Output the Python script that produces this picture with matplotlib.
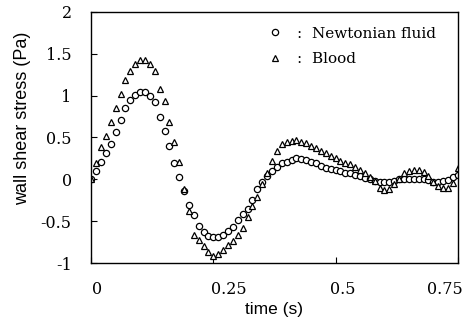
import numpy as np
import matplotlib
matplotlib.use('Agg')
import matplotlib.pyplot as plt
from matplotlib.ticker import FormatStrFormatter
from matplotlib.transforms import ScaledTranslation

# time (s), sampled every 0.01 s over one cycle
t = [0.00, 0.01, 0.02, 0.03, 0.04, 0.05, 0.06, 0.07, 0.08, 0.09,
     0.10, 0.11, 0.12, 0.13, 0.14, 0.15, 0.16, 0.17, 0.18, 0.19,
     0.20, 0.21, 0.22, 0.23, 0.24, 0.25, 0.26, 0.27, 0.28, 0.29,
     0.30, 0.31, 0.32, 0.33, 0.34, 0.35, 0.36, 0.37, 0.38, 0.39,
     0.40, 0.41, 0.42, 0.43, 0.44, 0.45, 0.46, 0.47, 0.48, 0.49,
     0.50, 0.51, 0.52, 0.53, 0.54, 0.55, 0.56, 0.57, 0.58, 0.59,
     0.60, 0.61, 0.62, 0.63, 0.64, 0.65, 0.66, 0.67, 0.68, 0.69,
     0.70, 0.71, 0.72, 0.73, 0.74, 0.75]

# wall shear stress (Pa)
newtonian = [0.00, 0.10, 0.21, 0.32, 0.42, 0.56, 0.71, 0.85, 0.95, 1.01,
             1.04, 1.04, 1.00, 0.92, 0.75, 0.58, 0.40, 0.20, 0.03, -0.14,
             -0.31, -0.43, -0.56, -0.63, -0.68, -0.69, -0.69, -0.67, -0.62, -0.57,
             -0.48, -0.41, -0.35, -0.25, -0.12, -0.03, 0.04, 0.10, 0.15, 0.19,
             0.21, 0.23, 0.25, 0.24, 0.23, 0.21, 0.19, 0.16, 0.14, 0.12,
             0.11, 0.10, 0.08, 0.07, 0.05, 0.04, 0.02, 0.00, -0.02, -0.03,
             -0.03, -0.03, -0.02, 0.00, 0.01, 0.01, 0.01, 0.01, 0.00, -0.01,
             -0.03, -0.03, -0.02, -0.01, 0.03, 0.05]

blood = [0.00, 0.20, 0.39, 0.52, 0.69, 0.85, 1.02, 1.19, 1.30, 1.38,
         1.43, 1.43, 1.38, 1.30, 1.08, 0.94, 0.68, 0.45, 0.21, -0.12,
         -0.38, -0.66, -0.73, -0.80, -0.87, -0.92, -0.89, -0.84, -0.79, -0.74,
         -0.67, -0.58, -0.45, -0.32, -0.21, -0.05, 0.08, 0.22, 0.34, 0.42,
         0.45, 0.46, 0.47, 0.45, 0.43, 0.40, 0.37, 0.34, 0.31, 0.28,
         0.25, 0.22, 0.20, 0.18, 0.15, 0.11, 0.07, 0.03, -0.02, -0.10,
         -0.13, -0.12, -0.06, 0.01, 0.07, 0.10, 0.11, 0.11, 0.09, 0.04,
         -0.03, -0.08, -0.10, -0.10, -0.04, 0.13]

xticks = [0, 0.25, 0.5, 0.75]
yticks = [-1, -0.5, 0, 0.5, 1, 1.5, 2]

serif = 'DejaVu Serif'
sans = 'Liberation Sans'

fig = plt.figure(figsize=(4.7, 3.22), dpi=100)
ax = fig.add_axes([0.194, 0.183, 0.780, 0.780])

ax.plot(t, newtonian, 'o', ms=4.5, mfc='white', mec='black', mew=0.9,
        label=':  Newtonian fluid')
ax.plot(t, blood, '^', ms=5, mfc='white', mec='black', mew=0.9,
        label=':  Blood')

ax.set_xlim(0, 0.75)
ax.set_ylim(-1, 2)
ax.set_xticks(xticks)
ax.set_yticks(yticks)
ax.xaxis.set_major_formatter(FormatStrFormatter('%g'))
ax.yaxis.set_major_formatter(FormatStrFormatter('%g'))
ax.tick_params(direction='in', length=4, width=0.8)
ax.tick_params(axis='y', pad=14)
ax.tick_params(axis='x', pad=13)
for lab in ax.get_xticklabels() + ax.get_yticklabels():
    lab.set_family(serif)
    lab.set_fontsize(11.5)

# x tick labels sit a little off their ticks in the original scan
fig.canvas.draw()
for lab, dx in zip(ax.get_xticklabels(), [6, 15, 7, -13]):
    lab.set_transform(lab.get_transform() + ScaledTranslation(dx / 100, 0, fig.dpi_scale_trans))

for sp in ax.spines.values():
    sp.set_linewidth(1.0)

ax.set_xlabel('time (s)', family=sans, fontsize=12.5, labelpad=3)
ax.set_ylabel('wall shear stress (Pa)', family=sans, fontsize=13)
ax.yaxis.set_label_coords(-0.165, 0.578)

ax.legend(loc='upper left', bbox_to_anchor=(0.465, 0.965), frameon=False,
          prop={'family': serif, 'size': 11}, handletextpad=0.9,
          handlelength=1.0, borderaxespad=0.0, labelspacing=0.75)

fig.savefig('out.png', dpi=100)
